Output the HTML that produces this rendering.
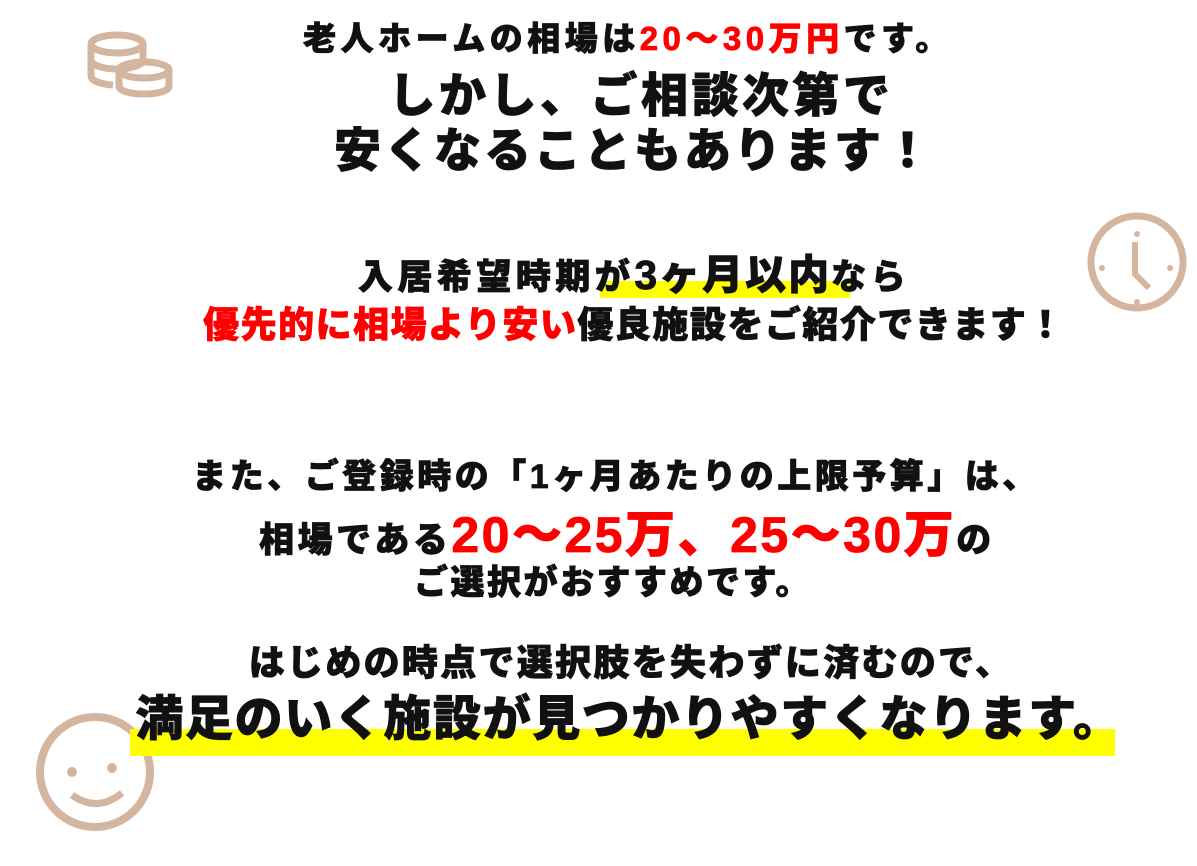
<!DOCTYPE html>
<html><head><meta charset="utf-8"><style>
body{margin:0;width:1197px;height:866px;background:#fff;position:relative;overflow:hidden;font-family:"Liberation Sans","Noto Sans CJK JP",sans-serif;font-weight:900;color:#111}
.l{position:absolute;white-space:nowrap;transform:translateX(-50%);line-height:1;-webkit-text-stroke:0.8px currentColor}
.r{color:#f00}
</style></head><body>
<svg style="position:absolute;left:0;top:0" width="1197" height="866">
<g fill="none" stroke="#d4b5a0" stroke-width="7">
<ellipse cx="117" cy="44" rx="26" ry="9"/>
<path d="M91 44v16c0 5 12 9 26 9s26-4 26-9V44"/>
<path d="M91 60v16c0 5 10 8 22 9"/>
<ellipse cx="144" cy="70" rx="25" ry="8"/>
<path d="M119 70v16c0 5 11 8 25 8s25-3 25-8V70"/>
<circle cx="1137" cy="262" r="46"/>
<path d="M1135 242v32l14 14" stroke-width="6"/>
<circle cx="95" cy="772" r="55" stroke-width="8"/>
<path d="M72 795q25 18 50-2" stroke-width="7"/>
</g>
<g fill="#d4b5a0">
<circle cx="1137" cy="234" r="3"/><circle cx="1137" cy="302" r="3"/><circle cx="1102" cy="268" r="3"/><circle cx="1170" cy="268" r="3"/>
<circle cx="72" cy="772" r="5"/><circle cx="112" cy="768" r="5"/>
</g>
<rect x="600" y="281" width="250" height="17" fill="#ffff00"/>
<rect x="130" y="729" width="985" height="27" fill="#ffff00"/>
</svg>
<div class="l" style="left:628px;top:22px;font-size:33px;letter-spacing:4.5px">老人ホームの相場は<span class="r">20〜30万円</span>です。</div>
<div class="l" style="left:641px;top:72px;font-size:47px;letter-spacing:3.5px">しかし、ご相談次第で</div>
<div class="l" style="left:634px;top:127px;font-size:47px;letter-spacing:3px">安くなることもあります！</div>
<div class="l" style="left:634px;top:255px;font-size:35px;letter-spacing:4.5px">入居希望時期が<span style="font-size:41px;letter-spacing:2px">3ヶ月以内</span>なら</div>
<div class="l" style="left:634px;top:307px;font-size:36px;letter-spacing:1.5px"><span class="r">優先的に相場より安い</span>優良施設をご紹介できます！</div>
<div class="l" style="left:616px;top:460px;font-size:34px;letter-spacing:3.5px">また、ご登録時の「1ヶ月あたりの上限予算」は、</div>
<div class="l" style="left:627px;top:510px;font-size:35px;letter-spacing:3.5px">相場である<span class="r" style="font-size:50px;letter-spacing:2.5px">20〜25万、25〜30万</span>の</div>
<div class="l" style="left:613px;top:566px;font-size:34px;letter-spacing:2.5px">ご選択がおすすめです。</div>
<div class="l" style="left:631px;top:645px;font-size:36px;letter-spacing:2.3px">はじめの時点で選択肢を失わずに済むので、</div>
<div class="l" style="left:629px;top:696px;font-size:48px;letter-spacing:1.6px">満足のいく施設が見つかりやすくなります。</div>
</body></html>
